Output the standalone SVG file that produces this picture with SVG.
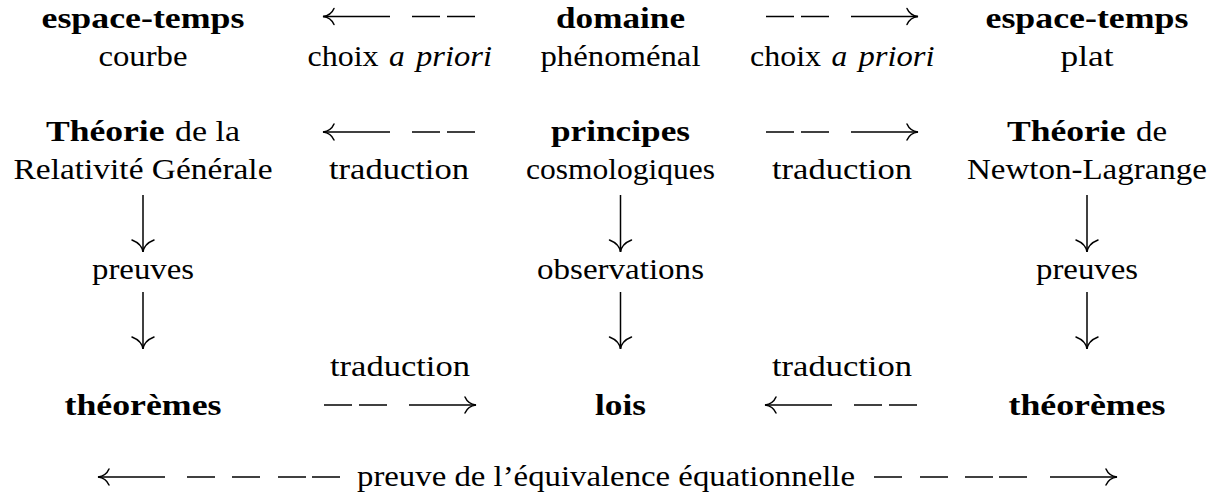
<svg xmlns="http://www.w3.org/2000/svg" width="1217" height="495" viewBox="0 0 1217 495">
<style>
text{font-family:"Liberation Serif","Times New Roman",serif;font-size:30px;fill:#000}
.m{text-anchor:middle}
.b{font-weight:bold}
.i{font-style:italic}
.ln{stroke:#000;stroke-width:1.5;fill:none}
.hd{stroke:#000;stroke-width:1.5;fill:none;stroke-linecap:round}
</style>
<rect width="1217" height="495" fill="#fff"/>

<g id="n-espace-temps-courbe">
<text class="m b" x="143" y="28" textLength="203" lengthAdjust="spacingAndGlyphs">espace-temps</text>
<text class="m" x="143" y="66" textLength="89" lengthAdjust="spacingAndGlyphs">courbe</text>
</g>
<g id="n-domaine">
<text class="m b" x="620.5" y="28" textLength="129" lengthAdjust="spacingAndGlyphs">domaine</text>
<text class="m" x="620.5" y="66" textLength="160" lengthAdjust="spacingAndGlyphs">phénoménal</text>
</g>
<g id="n-espace-temps-plat">
<text class="m b" x="1087" y="28" textLength="203" lengthAdjust="spacingAndGlyphs">espace-temps</text>
<text class="m" x="1087" y="66" textLength="53" lengthAdjust="spacingAndGlyphs">plat</text>
</g>

<g id="n-theorie-rg">
<text class="b" x="46" y="141" textLength="118.5" lengthAdjust="spacingAndGlyphs">Théorie</text>
<text x="175" y="141" textLength="65" lengthAdjust="spacingAndGlyphs">de la</text>
<text class="m" x="143" y="179" textLength="259" lengthAdjust="spacingAndGlyphs">Relativité Générale</text>
</g>
<g id="n-principes">
<text class="m b" x="620.5" y="141" textLength="139" lengthAdjust="spacingAndGlyphs">principes</text>
<text class="m" x="620.5" y="179" textLength="189" lengthAdjust="spacingAndGlyphs">cosmologiques</text>
</g>
<g id="n-theorie-nl">
<text class="b" x="1007" y="141" textLength="118.5" lengthAdjust="spacingAndGlyphs">Théorie</text>
<text x="1136" y="141" textLength="31" lengthAdjust="spacingAndGlyphs">de</text>
<text class="m" x="1087" y="179" textLength="240" lengthAdjust="spacingAndGlyphs">Newton-Lagrange</text>
</g>

<g id="n-preuves-gauche">
<text class="m" x="143" y="279" textLength="102" lengthAdjust="spacingAndGlyphs">preuves</text>
</g>
<g id="n-observations">
<text class="m" x="620.5" y="279" textLength="167" lengthAdjust="spacingAndGlyphs">observations</text>
</g>
<g id="n-preuves-droite">
<text class="m" x="1087" y="279" textLength="102" lengthAdjust="spacingAndGlyphs">preuves</text>
</g>

<g id="n-theoremes-gauche">
<text class="m b" x="143" y="415" textLength="157" lengthAdjust="spacingAndGlyphs">théorèmes</text>
</g>
<g id="n-lois">
<text class="m b" x="620.5" y="415" textLength="51" lengthAdjust="spacingAndGlyphs">lois</text>
</g>
<g id="n-theoremes-droite">
<text class="m b" x="1087" y="415" textLength="157" lengthAdjust="spacingAndGlyphs">théorèmes</text>
</g>

<g id="connectors">
<g id="c-row1-left">
<line class="ln" x1="323" y1="16.5" x2="390" y2="16.5"/>
<path class="hd" d="M334,8.5 Q331,15.5 323,16.5 Q331,17.5 334,24.5"/>
<line class="ln" x1="412" y1="16.5" x2="440" y2="16.5"/>
<line class="ln" x1="447" y1="16.5" x2="475" y2="16.5"/>
<text x="307.5" y="65.5" textLength="71" lengthAdjust="spacingAndGlyphs">choix</text>
<text class="i" x="389" y="65.5" textLength="15.7" lengthAdjust="spacingAndGlyphs">a</text>
<text class="i" x="416" y="65.5" textLength="76" lengthAdjust="spacingAndGlyphs">priori</text>
</g>
<g id="c-row1-right">
<line class="ln" x1="766" y1="16.5" x2="794" y2="16.5"/>
<line class="ln" x1="801" y1="16.5" x2="829" y2="16.5"/>
<line class="ln" x1="851" y1="16.5" x2="918" y2="16.5"/>
<path class="hd" d="M907,8.5 Q910,15.5 918,16.5 Q910,17.5 907,24.5"/>
<text x="750" y="65.5" textLength="71" lengthAdjust="spacingAndGlyphs">choix</text>
<text class="i" x="831.5" y="65.5" textLength="15.7" lengthAdjust="spacingAndGlyphs">a</text>
<text class="i" x="858.5" y="65.5" textLength="76" lengthAdjust="spacingAndGlyphs">priori</text>
</g>
<g id="c-row2-left">
<line class="ln" x1="323" y1="132" x2="390" y2="132"/>
<path class="hd" d="M334,124 Q331,131 323,132 Q331,133 334,140"/>
<line class="ln" x1="412" y1="132" x2="440" y2="132"/>
<line class="ln" x1="447" y1="132" x2="475" y2="132"/>
<text class="m" x="399" y="179" textLength="140" lengthAdjust="spacingAndGlyphs">traduction</text>
</g>
<g id="c-row2-right">
<line class="ln" x1="766" y1="132" x2="794" y2="132"/>
<line class="ln" x1="801" y1="132" x2="829" y2="132"/>
<line class="ln" x1="851" y1="132" x2="918" y2="132"/>
<path class="hd" d="M907,124 Q910,131 918,132 Q910,133 907,140"/>
<text class="m" x="842" y="179" textLength="140" lengthAdjust="spacingAndGlyphs">traduction</text>
</g>
<g id="c-down">
<line class="ln" x1="143" y1="195" x2="143" y2="252"/>
<path class="hd" d="M132,240 Q142,244 143,252 Q144,244 154,240"/>
<line class="ln" x1="143" y1="292" x2="143" y2="349"/>
<path class="hd" d="M132,337 Q142,341 143,349 Q144,341 154,337"/>
<line class="ln" x1="620.5" y1="195" x2="620.5" y2="252"/>
<path class="hd" d="M609.5,240 Q619.5,244 620.5,252 Q621.5,244 631.5,240"/>
<line class="ln" x1="620.5" y1="292" x2="620.5" y2="349"/>
<path class="hd" d="M609.5,337 Q619.5,341 620.5,349 Q621.5,341 631.5,337"/>
<line class="ln" x1="1087" y1="195" x2="1087" y2="252"/>
<path class="hd" d="M1076,240 Q1086,244 1087,252 Q1088,244 1098,240"/>
<line class="ln" x1="1087" y1="292" x2="1087" y2="349"/>
<path class="hd" d="M1076,337 Q1086,341 1087,349 Q1088,341 1098,337"/>
</g>
<g id="c-row4-left">
<text class="m" x="400" y="376" textLength="140" lengthAdjust="spacingAndGlyphs">traduction</text>
<line class="ln" x1="324" y1="405" x2="352" y2="405"/>
<line class="ln" x1="359" y1="405" x2="387" y2="405"/>
<line class="ln" x1="409" y1="405" x2="476" y2="405"/>
<path class="hd" d="M465,397 Q468,404 476,405 Q468,406 465,413"/>
</g>
<g id="c-row4-right">
<text class="m" x="842" y="376" textLength="140" lengthAdjust="spacingAndGlyphs">traduction</text>
<line class="ln" x1="765" y1="405" x2="832" y2="405"/>
<path class="hd" d="M776,397 Q773,404 765,405 Q773,406 776,413"/>
<line class="ln" x1="854" y1="405" x2="882" y2="405"/>
<line class="ln" x1="889" y1="405" x2="917" y2="405"/>
</g>
<g id="c-equivalence">
<line class="ln" x1="98" y1="477" x2="165" y2="477"/>
<path class="hd" d="M109,469 Q106,476 98,477 Q106,478 109,485"/>
<line class="ln" x1="187" y1="477" x2="215" y2="477"/>
<line class="ln" x1="232" y1="477" x2="260" y2="477"/>
<line class="ln" x1="278" y1="477" x2="306" y2="477"/>
<line class="ln" x1="312" y1="477" x2="340" y2="477"/>
<text class="m" x="606" y="486" textLength="498" lengthAdjust="spacingAndGlyphs">preuve de l’équivalence équationnelle</text>
<line class="ln" x1="874" y1="477" x2="902" y2="477"/>
<line class="ln" x1="920" y1="477" x2="948" y2="477"/>
<line class="ln" x1="965" y1="477" x2="993" y2="477"/>
<line class="ln" x1="999" y1="477" x2="1027" y2="477"/>
<line class="ln" x1="1050" y1="477" x2="1117" y2="477"/>
<path class="hd" d="M1106,469 Q1109,476 1117,477 Q1109,478 1106,485"/>
</g>
</g>
</svg>
